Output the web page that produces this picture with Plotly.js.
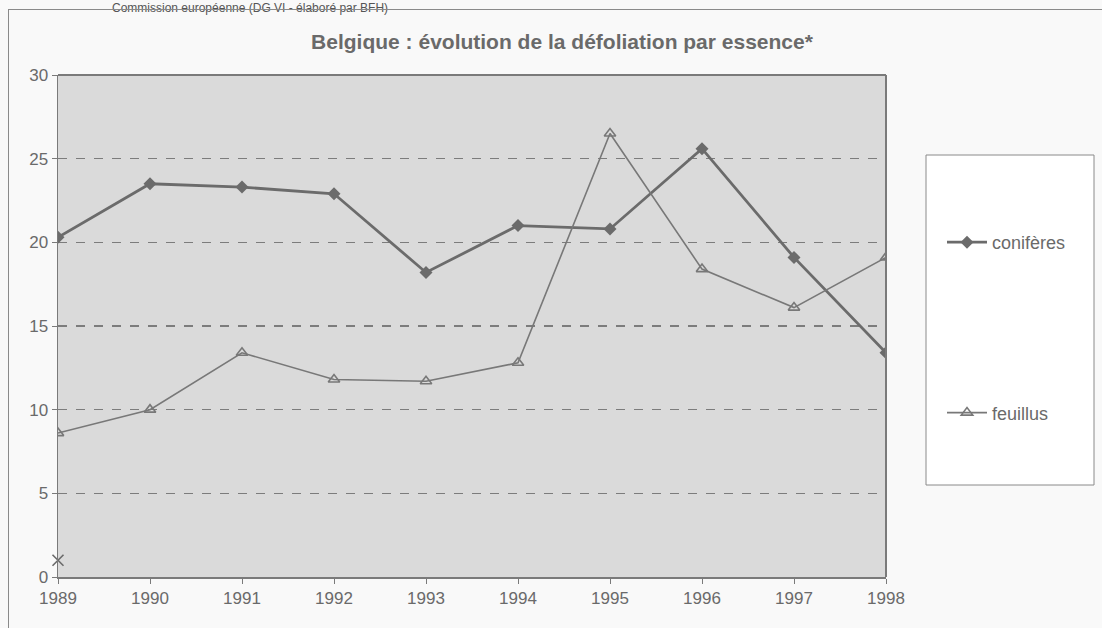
<!DOCTYPE html>
<html>
<head>
<meta charset="utf-8">
<script src="https://cdn.plot.ly/plotly-3.0.1.min.js"></script>
<style>
  html, body { margin: 0; padding: 0; background: #f9f9f9; overflow: hidden; }
  #wrap { position: relative; width: 1102px; height: 628px; }
  #chart { width: 1102px; height: 628px; }
  #frame { position: absolute; left: 8px; top: 9px; width: 1200px; height: 700px;
           border-left: 1px solid #8a8a8a; border-top: 1px solid #8a8a8a; pointer-events: none; }
</style>
</head>
<body>
<div id="wrap">
  <div id="chart"></div>
  <div id="frame"></div>
</div>
<script>
const years = [1989, 1990, 1991, 1992, 1993, 1994, 1995, 1996, 1997, 1998];
const coniferes = [20.3, 23.5, 23.3, 22.9, 18.2, 21.0, 20.8, 25.6, 19.1, 13.4];
const feuillus = [8.6, 10.0, 13.4, 11.8, 11.7, 12.8, 26.5, 18.4, 16.1, 19.1];
const strayYears = [1989];
const strayValues = [1.0];
const yTicks = [0, 5, 10, 15, 20, 25, 30];
const titleText = "Belgique : évolution de la défoliation par essence*";
const sourceText = "Commission européenne (DG VI - élaboré par BFH)";

const W = 1102, H = 628;
const L = 58, R = 886, T = 75, B = 577;
const px = x => (x - L) / (R - L);
const py = y => (B - y) / (B - T);

const font = "Liberation Sans, Arial, sans-serif";
const grey = "#6a6a6a";

const traces = [
  {
    x: years, y: coniferes, name: "conifères", type: "scatter", mode: "lines+markers",
    line: {color: "#6b6b6b", width: 2.8},
    marker: {symbol: "diamond", size: 10, color: "#6b6b6b"},
    legendgroup: "a"
  },
  {
    x: years, y: feuillus, name: "feuillus", type: "scatter", mode: "lines+markers",
    line: {color: "#787878", width: 1.6},
    marker: {symbol: "triangle-up-open", size: 10, color: "#787878", line: {width: 1.6, color: "#787878"}},
    legendgroup: "b"
  },
  {
    x: strayYears, y: strayValues, name: "x", type: "scatter", mode: "markers",
    marker: {symbol: "x-thin-open", size: 11, color: "#6a6a6a", line: {width: 1.6, color: "#6a6a6a"}},
    showlegend: false, cliponaxis: false
  }
];

const layout = {
  width: W, height: H,
  margin: {l: L, r: W - R, t: T, b: H - B, pad: 0},
  paper_bgcolor: "#f9f9f9",
  plot_bgcolor: "#dadada",
  font: {family: font, color: grey, size: 17},
  title: {text: "<b>" + titleText + "</b>", font: {family: font, size: 21, color: "#6a6a6a"},
          xref: "container", x: 562 / W, xanchor: "center",
          yref: "container", y: 1 - 42 / H, yanchor: "middle"},
  xaxis: {
    range: [1989, 1998], tickvals: years, ticktext: years.map(String),
    showgrid: false, zeroline: false, showline: true, linecolor: "#7a7a7a", linewidth: 2,
    ticks: "outside", ticklen: 5, tickcolor: "#7a7a7a", tickwidth: 1,
    tickfont: {family: font, size: 17, color: grey}, fixedrange: true
  },
  yaxis: {
    range: [0, 30], tickvals: yTicks,
    showgrid: true, gridcolor: "#7c7c7c", griddash: "dash", gridwidth: 1.2,
    zeroline: false, showline: true, linecolor: "#7a7a7a", linewidth: 1.5, mirror: false,
    ticks: "outside", ticklen: 5, tickcolor: "#7a7a7a",
    tickfont: {family: font, size: 17, color: grey}, fixedrange: true
  },
  shapes: [
    {type: "line", xref: "paper", yref: "paper", x0: 0, x1: 1, y0: 1, y1: 1, line: {color: "#7a7a7a", width: 2}},
    {type: "line", xref: "paper", yref: "paper", x0: 1, x1: 1, y0: 0, y1: 1, line: {color: "#7a7a7a", width: 2}},
    {type: "rect", xref: "paper", yref: "paper", x0: px(926), x1: px(1094), y0: py(485), y1: py(155),
     line: {color: "#8a8a8a", width: 1}, fillcolor: "#ffffff", layer: "below"}
  ],
  showlegend: true,
  legend: {
    x: px(942), xanchor: "left", y: py(224), yanchor: "top",
    bgcolor: "rgba(0,0,0,0)", borderwidth: 0, tracegroupgap: 144,
    font: {family: font, size: 18, color: grey}, itemwidth: 40
  },
  annotations: [
    {text: sourceText, xref: "paper", yref: "paper", x: px(110), y: py(-1), xanchor: "left", yanchor: "top",
     showarrow: false, font: {family: font, size: 12, color: "#555"}}
  ]
};

Plotly.newPlot("chart", traces, layout, {displayModeBar: false, staticPlot: true});
</script>
</body>
</html>
